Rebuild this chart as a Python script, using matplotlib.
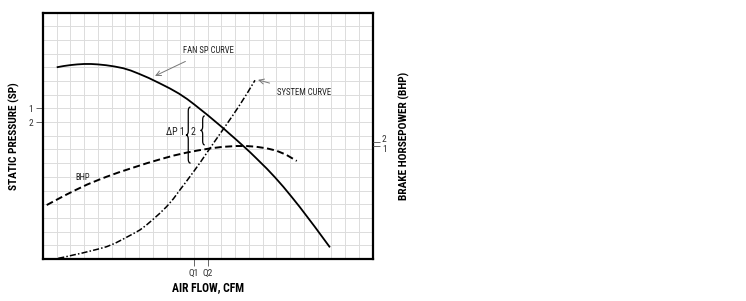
import matplotlib
matplotlib.use("Agg")
import matplotlib.pyplot as plt
from matplotlib.path import Path
from matplotlib.patches import PathPatch

plt.rcParams['font.family'] = ['Roboto Condensed', 'Archivo Narrow', 'PT Sans Narrow',
                               'Liberation Sans Narrow', 'Liberation Sans', 'DejaVu Sans']

# ---- data (grid units) ----
fan_x = [1.0, 1.5, 2.0, 2.5, 3.0, 3.5, 4.0, 4.6, 5.2, 5.85, 6.4, 7.0, 7.7, 8.5, 9.25, 9.9,
         10.5, 11.0, 11.5, 12.0, 12.5, 13.13, 13.6, 14.0, 14.7, 15.1, 15.5, 16.3, 16.9,
         17.5, 18.1, 18.7, 19.8, 20.9]
fan_y = [14.0, 14.09, 14.16, 14.21, 14.24, 14.24, 14.21, 14.15, 14.06, 13.93, 13.76, 13.52,
         13.22, 12.83, 12.45, 12.08, 11.68, 11.3, 10.9, 10.5, 10.08, 9.55, 9.13, 8.78, 8.15,
         7.78, 7.39, 6.6, 5.96, 5.28, 4.55, 3.8, 2.35, 0.85]

sys_x = [1.11, 1.6, 2.2, 2.8, 3.4, 4.0, 4.64, 5.25, 5.85, 6.45, 7.06, 7.5, 8.0, 8.5, 9.0,
         9.5, 10.0, 10.47, 11.0, 11.5, 12.0, 12.6, 13.2, 13.8, 14.35, 14.9, 15.44]
sys_y = [0.05, 0.15, 0.29, 0.42, 0.57, 0.72, 0.9, 1.15, 1.46, 1.78, 2.12, 2.45, 2.88, 3.33,
         3.82, 4.4, 5.08, 5.7, 6.42, 7.12, 7.85, 8.72, 9.58, 10.45, 11.28, 12.15, 13.05]

bhp_x = [0.27, 1.0, 1.7, 2.4, 3.2, 4.0, 4.64, 5.5, 6.5, 7.55, 8.5, 9.5, 10.47, 11.3, 12.2,
         13.1, 14.1, 14.8, 15.5, 16.3, 17.0, 17.7, 18.48]
bhp_y = [3.94, 4.33, 4.7, 5.05, 5.43, 5.76, 6.01, 6.32, 6.65, 6.99, 7.27, 7.55, 7.77, 7.93,
         8.08, 8.19, 8.25, 8.25, 8.2, 8.08, 7.91, 7.62, 7.16]

q_ticks = [11, 12]
q_labels = ['Q1', 'Q2']
sp_ticks = [11, 10]
sp_labels = ['1', '2']
bhp_ticks = [8.52, 8.25]
bhp_labels = ['2', '1']

W, H = 746, 301
fig = plt.figure(figsize=(W / 100, H / 100), dpi=100)
ax = fig.add_axes([43 / W, 1 - 259 / H, 329.5 / W, 246.5 / H])
ax.set_xlim(0, 24)
ax.set_ylim(0, 18)

# grid
for i in range(1, 24):
    ax.axvline(i, color='#dcdcdc', lw=0.7, zorder=0)
for j in range(1, 18):
    ax.axhline(j, color='#dcdcdc', lw=0.7, zorder=0)

for s in ax.spines.values():
    s.set_linewidth(1.6)
    s.set_color('black')

# curves
ax.plot(fan_x, fan_y, color='black', lw=1.3, solid_capstyle='butt', zorder=3)
ax.plot(sys_x, sys_y, color='black', lw=1.1, linestyle=(0, (4.0, 1.4, 1.0, 1.4)), zorder=3)
ax.plot(bhp_x, bhp_y, color='black', lw=1.4, linestyle=(0, (3.6, 1.8)), zorder=3)

# ticks
ax.set_xticks(q_ticks)
ax.set_xticklabels(q_labels)
ax.set_yticks(sp_ticks)
ax.set_yticklabels(sp_labels)
ax.tick_params(axis='both', length=5, width=0.7, color='#666666', labelsize=6.8,
               labelcolor='#333333', pad=2)

ax2 = ax.twinx()
ax2.set_ylim(0, 18)
ax2.set_yticks(bhp_ticks)
ax2.set_yticklabels([])
ax2.tick_params(axis='y', length=5, width=0.7, color='#666666')
for s in ax2.spines.values():
    s.set_visible(False)
for lab, ypx in zip(bhp_labels, [139.5, 150.0]):
    fig.text(382 / W, 1 - ypx / H, lab, fontsize=6.8, color='#333333', va='center', ha='left')


def brace(ax, xs, y0, y1, w, r):
    ym = (y0 + y1) / 2
    verts = [(xs + w, y1), (xs, y1), (xs, y1 - r),
             (xs, ym + r),
             (xs, ym), (xs - w, ym),
             (xs, ym), (xs, ym - r),
             (xs, y0 + r),
             (xs, y0), (xs + w, y0)]
    codes = [Path.MOVETO, Path.CURVE3, Path.CURVE3,
             Path.LINETO,
             Path.CURVE3, Path.CURVE3,
             Path.CURVE3, Path.CURVE3,
             Path.LINETO,
             Path.CURVE3, Path.CURVE3]
    ax.add_patch(PathPatch(Path(verts, codes), fill=False, lw=0.9, color='black', zorder=4))


brace(ax, 10.58, 7.0, 11.1, 0.17, 0.3)
brace(ax, 11.63, 8.33, 10.45, 0.15, 0.28)
ax.text(10.35, 9.25, '\u0394P 1', fontsize=7.2, ha='right', va='center', color='#222222',
        family=['Roboto Condensed', 'DejaVu Sans'])
ax.text(10.93, 9.25, '2', fontsize=7.2, ha='center', va='center', color='#222222')

# annotations
ax.annotate('FAN SP CURVE', xy=(8.16, 13.37), xytext=(10.18, 15.22), fontsize=6.2,
            color='#222222', va='center', ha='left',
            arrowprops=dict(arrowstyle='->', color='#777777', lw=0.7,
                            shrinkA=6, shrinkB=0, mutation_scale=9))
ax.annotate('SYSTEM CURVE', xy=(15.66, 13.08), xytext=(17.02, 12.15), fontsize=6.3,
            color='#222222', va='center', ha='left',
            arrowprops=dict(arrowstyle='->', color='#777777', lw=0.7,
                            shrinkA=6, shrinkB=0, mutation_scale=9))
ax.text(2.33, 5.94, 'BHP', fontsize=6.2, color='#222222', va='center', ha='left')

# axis titles
fig.text(14 / W, 1 - 136 / H, 'STATIC PRESSURE (SP)', rotation=90, fontsize=8.2,
         fontweight='bold', ha='center', va='center')
fig.text(404 / W, 1 - 136 / H, 'BRAKE HORSEPOWER (BHP)', rotation=90, fontsize=8.2,
         fontweight='bold', ha='center', va='center')
fig.text(207.5 / W, 1 - 288 / H, 'AIR FLOW, CFM', fontsize=8.4,
         fontweight='bold', ha='center', va='center')

fig.savefig('out.png', dpi=100)
